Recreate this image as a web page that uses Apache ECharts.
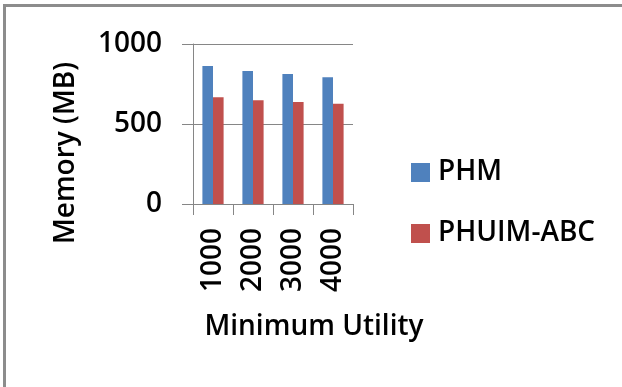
<!DOCTYPE html>
<html>
<head>
<meta charset="utf-8">
<script src="https://cdn.jsdelivr.net/npm/echarts@6/dist/echarts.min.js"></script>
<style>
html,body{margin:0;padding:0;background:#fff;}
#chart{width:622px;height:387px;}
</style>
</head>
<body>
<div id="chart"></div>
<script>
var categories = ['1000', '2000', '3000', '4000'];
var phm = [862, 831, 812, 792];
var phuimAbc = [667, 648, 637, 627];
var yTicks = [0, 500, 1000];

var FONT = 'Open Sans';
var W = 600;
var FS = 28;
var chart = echarts.init(document.getElementById('chart'), null, {renderer: 'canvas'});
chart.setOption({
  animation: false,
  backgroundColor: '#ffffff',
  textStyle: {fontFamily: FONT},
  graphic: [
    {type: 'line', shape: {x1: 3, y1: 5.5, x2: 622, y2: 5.5}, style: {stroke: '#8c8c8c', lineWidth: 3}},
    {type: 'line', shape: {x1: 4.5, y1: 4, x2: 4.5, y2: 387}, style: {stroke: '#8c8c8c', lineWidth: 3}}
  ],
  grid: {left: 193, top: 44, right: 269, bottom: 183, containLabel: false},
  legend: {
    orient: 'vertical',
    left: 406,
    top: 153,
    icon: 'rect',
    itemWidth: 19,
    itemHeight: 19,
    itemGap: 32,
    textStyle: {fontFamily: FONT, fontSize: FS, fontWeight: W, color: '#000', lineHeight: 29, padding: [0, 0, 0, 3]},
    data: ['PHM', 'PHUIM-ABC']
  },
  xAxis: {
    type: 'category',
    data: categories,
    name: 'Minimum Utility',
    nameLocation: 'middle',
    nameGap: 109,
    nameTextStyle: {fontFamily: FONT, fontSize: FS, fontWeight: W, color: '#000', padding: [0, 0, 0, 82]},
    axisLine: {show: true, lineStyle: {color: '#868686', width: 1}},
    axisTick: {show: true, length: 11, alignWithLabel: false, lineStyle: {color: '#868686'}},
    axisLabel: {rotate: 90, margin: 24, fontFamily: FONT, fontSize: FS, fontWeight: W, color: '#000', interval: 0},
    splitLine: {show: false}
  },
  yAxis: {
    type: 'value',
    min: yTicks[0],
    max: yTicks[yTicks.length - 1],
    interval: 500,
    name: 'Memory (MB)',
    nameLocation: 'middle',
    nameGap: 113,
    nameTextStyle: {fontFamily: FONT, fontSize: FS, fontWeight: W, color: '#000', padding: [0, 58, 0, 0]},
    axisLine: {show: true, lineStyle: {color: '#868686', width: 1}},
    axisTick: {show: true, length: 11, lineStyle: {color: '#868686'}},
    axisLabel: {margin: 31, fontFamily: FONT, fontSize: FS, fontWeight: W, color: '#000', formatter: function (v) { return String(v); }},
    splitLine: {show: true, lineStyle: {color: '#868686', width: 1}}
  },
  series: [
    {name: 'PHM', type: 'bar', data: phm, itemStyle: {color: '#4F81BD'}, barGap: '0%', barCategoryGap: '47%'},
    {name: 'PHUIM-ABC', type: 'bar', data: phuimAbc, itemStyle: {color: '#C0504D'}, barGap: '0%', barCategoryGap: '47%'}
  ]
});
</script>
</body>
</html>
